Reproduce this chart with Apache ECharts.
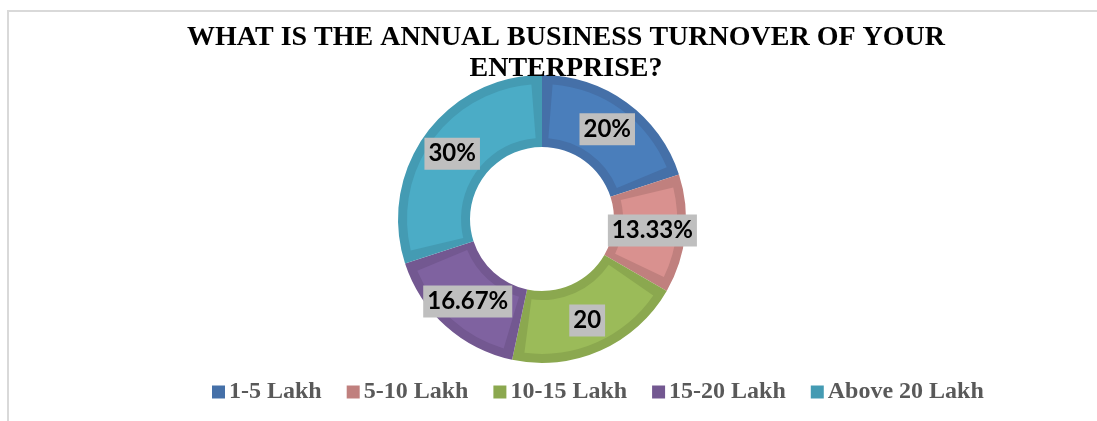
<!DOCTYPE html>
<html>
<head>
<meta charset="utf-8">
<script src="https://cdn.jsdelivr.net/npm/echarts@6/dist/echarts.min.js"></script>
<style>
  html, body { margin: 0; padding: 0; background: #fff; }
  #frame { position: absolute; left: 7px; top: 10px; right: 0; bottom: 0; border-left: 2px solid #d9d9d9; border-top: 2px solid #d9d9d9; }
  #turnover { position: absolute; left: 0; top: 0; width: 1097px; height: 421px; }
</style>
</head>
<body>
<div id="frame"></div>
<div id="turnover"></div>
<script>
// data
const categories = ['1-5 Lakh', '5-10 Lakh', '10-15 Lakh', '15-20 Lakh', 'Above 20 Lakh'];
const shares = [20, 13.33, 20, 16.67, 30];
const shareLabels = ['20%', '13.33%', '20', '16.67%', '30%'];
const titleText = 'WHAT IS THE ANNUAL BUSINESS TURNOVER OF YOUR\nENTERPRISE?';

// fill colours and the darker bevel band round each slice
const fillColors = ['#4A7EBB', '#D9918F', '#9BBB59', '#7F62A0', '#4BACC6'];
const edgeColors = ['#4570A8', '#C0807E', '#8BA84F', '#735891', '#449BB3'];

const chartInstance = echarts.init(document.getElementById('turnover'));

const option = {
  animation: false,
  title: {
    text: titleText,
    left: 561,
    top: 17,
    textAlign: 'center',
    textStyle: {
      fontFamily: 'Liberation Serif',
      fontWeight: 'bold',
      fontSize: 28,
      lineHeight: 31,
      color: '#000'
    }
  },
  legend: {
    data: categories,
    left: 207,
    top: 375,
    itemWidth: 13,
    itemHeight: 13,
    itemGap: 25,
    icon: 'rect',
    textStyle: {
      fontFamily: 'Liberation Serif',
      fontWeight: 'bold',
      fontSize: 24,
      color: '#595959',
      padding: [0, 0, 0, -1]
    }
  },
  series: [
    {
      // darker outer ring that makes the bevel band
      type: 'pie',
      radius: [72, 144],
      center: [542, 219],
      startAngle: 90,
      clockwise: true,
      silent: true,
      label: { show: false },
      labelLine: { show: false },
      data: categories.map((name, i) => ({
        name: name,
        value: shares[i],
        itemStyle: { color: edgeColors[i] }
      }))
    },
    {
      type: 'pie',
      radius: [81, 135],
      center: [542, 219],
      startAngle: 90,
      clockwise: true,
      padAngle: 9,
      silent: true,
      legendHoverLink: false,
      label: {
        show: true,
        position: 'inside',
        formatter: p => shareLabels[p.dataIndex],
        fontFamily: 'Lato',
        fontWeight: 'bold',
        fontSize: 24,
        color: '#000',
        backgroundColor: '#BFBFBF',
        padding: [5, 4, 3, 4]
      },
      labelLine: { show: false },
      data: categories.map((name, i) => ({
        name: name + ' ',
        value: shares[i],
        itemStyle: { color: fillColors[i] }
      }))
    }
  ]
};

chartInstance.setOption(option);
</script>
</body>
</html>
